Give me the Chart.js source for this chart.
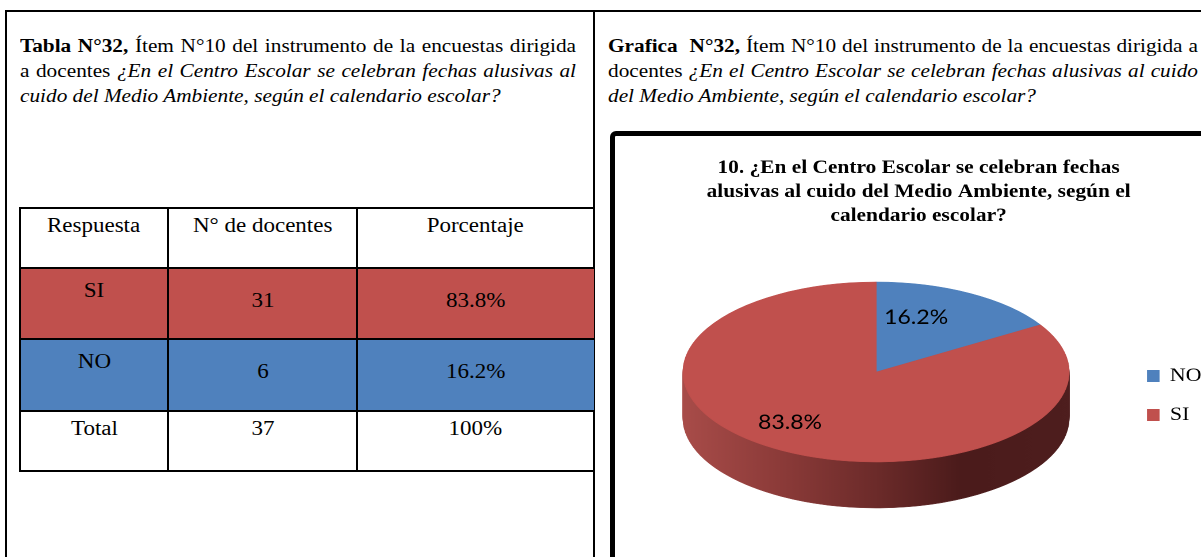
<!DOCTYPE html>
<html><head><meta charset="utf-8">
<script src="https://cdn.jsdelivr.net/npm/chart.js@4.4.1/dist/chart.umd.min.js"></script>
<style>
html,body{margin:0;padding:0;width:1201px;height:557px;overflow:hidden;background:#fff;}
body{position:relative;font-family:'Liberation Serif','Times New Roman',serif;color:#000;}
.ln{position:absolute;background:#000;}
.fill{position:absolute;}
.txt{position:absolute;transform-origin:0 0;transform:scaleX(1.15);font-size:18.5px;line-height:25px;}
.txt div{white-space:nowrap;text-align:justify;text-align-last:justify;}
.txt div.last{text-align:left;text-align-last:left;}
.cell{position:absolute;text-align:center;font-size:20px;line-height:24px;white-space:nowrap;}
.cell span{display:inline-block;transform:scaleX(1.15);}
#chartBox{position:absolute;left:610px;top:131px;width:700px;height:600px;border:5px solid #000;border-radius:6px;box-sizing:border-box;}
#chartWrap{position:absolute;left:615px;top:136px;transform-origin:0 0;transform:scaleX(1.15);}
#chartInner{position:relative;width:520px;height:519px;}
</style></head><body>

<div class="ln" style="left:5px;top:10px;width:1196px;height:2px"></div>
<div class="ln" style="left:5px;top:10px;width:2px;height:547px"></div>
<div class="ln" style="left:593px;top:10px;width:2px;height:547px"></div>

<div class="txt" style="left:20px;top:34px;width:483.5px">
  <div><b>Tabla N°32,</b> Ítem N°10 del instrumento de la encuestas dirigida</div>
  <div>a docentes <i>¿En el Centro Escolar se celebran fechas alusivas al</i></div>
  <div class="last"><i>cuido del Medio Ambiente, según el calendario escolar?</i></div>
</div>
<div class="txt" style="left:608px;top:34px;width:513px">
  <div><b>Grafica&nbsp; N°32,</b> Ítem N°10 del instrumento de la encuestas dirigida a</div>
  <div>docentes <i>¿En el Centro Escolar se celebran fechas alusivas al cuido</i></div>
  <div class="last"><i>del Medio Ambiente, según el calendario escolar?</i></div>
</div>

<div id="table"></div>

<div id="chartBox"></div>
<div id="chartWrap"><div id="chartInner"><canvas id="c"></canvas></div></div>

<script>
// ---------- DATA ----------
const categories = ['NO', 'SI'];
const docentesValues = [6, 31];
const sliceColors = ['#4f81bd', '#c0504d'];
const chartTitleLines = [
  '10. ¿En el Centro Escolar se celebran fechas',
  'alusivas al cuido del Medio Ambiente, según el',
  'calendario escolar?'
];
const tableHeaders = ['Respuesta', 'N° de docentes', 'Porcentaje'];
const tableOrder = ['SI', 'NO'];
const totalLabel = 'Total';

// ---------- TABLE ----------
(function buildTable() {
  const host = document.getElementById('table');
  const colX = [20, 168, 357, 594];
  const rowY = [208, 268, 339, 411, 471];
  const total = docentesValues.reduce((a, b) => a + b, 0);
  const pct = v => (v / total * 100).toFixed(1) + '%';
  const rows = [tableHeaders.map(h => ({t: h}))];
  tableOrder.forEach(cat => {
    const i = categories.indexOf(cat);
    rows.push([{t: cat, first: true}, {t: String(docentesValues[i])}, {t: pct(docentesValues[i])}],);
    rows[rows.length - 1].fill = sliceColors[i];
  });
  rows.push([{t: totalLabel}, {t: String(total)}, {t: '100%'}]);
  const add = (cls, css, html) => {
    const d = document.createElement('div'); d.className = cls;
    Object.assign(d.style, css); if (html) d.innerHTML = html; host.appendChild(d);
  };
  rows.forEach((row, r) => {
    if (row.fill) add('fill', {left: colX[0] + 'px', top: rowY[r] + 'px', width: (colX[3] - colX[0]) + 'px', height: (rowY[r + 1] - rowY[r]) + 'px', background: row.fill});
    const dataRow = r === 1 || r === 2;
    row.forEach((c, k) => {
      const off = dataRow ? (k === 0 ? 29 : 39) : 24;
      add('cell', {left: colX[k] + 'px', width: (colX[k + 1] - colX[k]) + 'px', top: (rowY[r] + off - 18.75) + 'px'}, '<span>' + c.t + '</span>');
    });
  });
  rowY.forEach(y => add('ln', {left: (colX[0] - 1) + 'px', top: (y - 1) + 'px', width: (colX[3] - colX[0] + 1) + 'px', height: '2px'}));
  colX.slice(0, 3).forEach(x => add('ln', {left: (x - 1) + 'px', top: (rowY[0] - 1) + 'px', width: '2px', height: (rowY[4] - rowY[0] + 2) + 'px'}));
})();

// ---------- CHART ----------
const SERIF = "'Liberation Serif','Times New Roman',serif";
const PIE = {cx: 227, cy: 236, rx: 167.8, ry: 90, depth: 46};
const LBL = {k: 0.67, dx: -20, dy: -2};

function pieTransform(ctx, arc) {
  const R = arc.outerRadius;
  ctx.translate(PIE.cx, PIE.cy);
  ctx.scale(PIE.rx / R, PIE.ry / R);
  ctx.translate(-arc.x, -arc.y);
}

const pie3d = {
  id: 'pie3d',
  beforeDatasetDraw(chart, args) {
    const meta = chart.getDatasetMeta(args.index);
    const ctx = chart.ctx;
    const a0 = meta.data[0];
    const R = a0.outerRadius;
    for (let d = PIE.depth; d >= 1; d--) {
      ctx.save();
      ctx.translate(0, d);
      pieTransform(ctx, a0);
      const g = ctx.createLinearGradient(a0.x - R, 0, a0.x + R, 0);
      g.addColorStop(0, '#a84c49');
      g.addColorStop(0.25, '#8c3b39');
      g.addColorStop(0.5, '#6c2b2a');
      g.addColorStop(0.72, '#4b1b1b');
      g.addColorStop(1, '#4e1e1e');
      meta.data.forEach(arc => {
        const fake = Object.create(arc);
        fake.options = Object.assign({}, arc.options, {backgroundColor: g, borderColor: g, borderWidth: 1});
        fake.draw(ctx);
      });
      ctx.restore();
    }
    ctx.save();
    pieTransform(ctx, a0);
  },
  afterDatasetDraw(chart) {
    chart.ctx.restore();
  },
  afterDatasetsDraw(chart) {
    const ctx = chart.ctx;
    const meta = chart.getDatasetMeta(0);
    const total = docentesValues.reduce((a, b) => a + b, 0);
    ctx.save();
    ctx.fillStyle = '#000';
    ctx.font = "20px Lato, 'Open Sans', sans-serif";
    ctx.textAlign = 'center';
    ctx.textBaseline = 'middle';
    meta.data.forEach((arc, i) => {
      const mid = (arc.startAngle + arc.endAngle) / 2;
      const x = PIE.cx + Math.cos(mid) * LBL.k * PIE.rx + LBL.dx;
      const y = PIE.cy + Math.sin(mid) * LBL.k * PIE.ry + LBL.dy;
      ctx.fillText((docentesValues[i] / total * 100).toFixed(1) + '%', x, y);
    });
    ctx.restore();
  }
};

new Chart(document.getElementById('c'), {
  type: 'pie',
  data: {
    labels: categories,
    datasets: [{
      data: docentesValues,
      backgroundColor: sliceColors,
      borderColor: sliceColors,
      borderWidth: 1,
      clip: false
    }]
  },
  options: {
    responsive: true,
    maintainAspectRatio: false,
    animation: false,
    devicePixelRatio: 2,
    events: [],
    layout: {padding: {left: 8, right: 0, top: 0, bottom: 0}},
    plugins: {
      title: {
        display: true,
        text: chartTitleLines,
        color: '#000',
        font: {family: SERIF, size: 18.6, weight: 'bold', lineHeight: '24px'},
        padding: {top: 20, bottom: 10}
      },
      legend: {
        position: 'right',
        align: 'center',
        labels: {color: '#000', boxWidth: 10, boxHeight: 11, padding: 20, font: {family: SERIF, size: 19}}
      },
      tooltip: {enabled: false}
    }
  },
  plugins: [pie3d]
});
</script>
</body></html>
